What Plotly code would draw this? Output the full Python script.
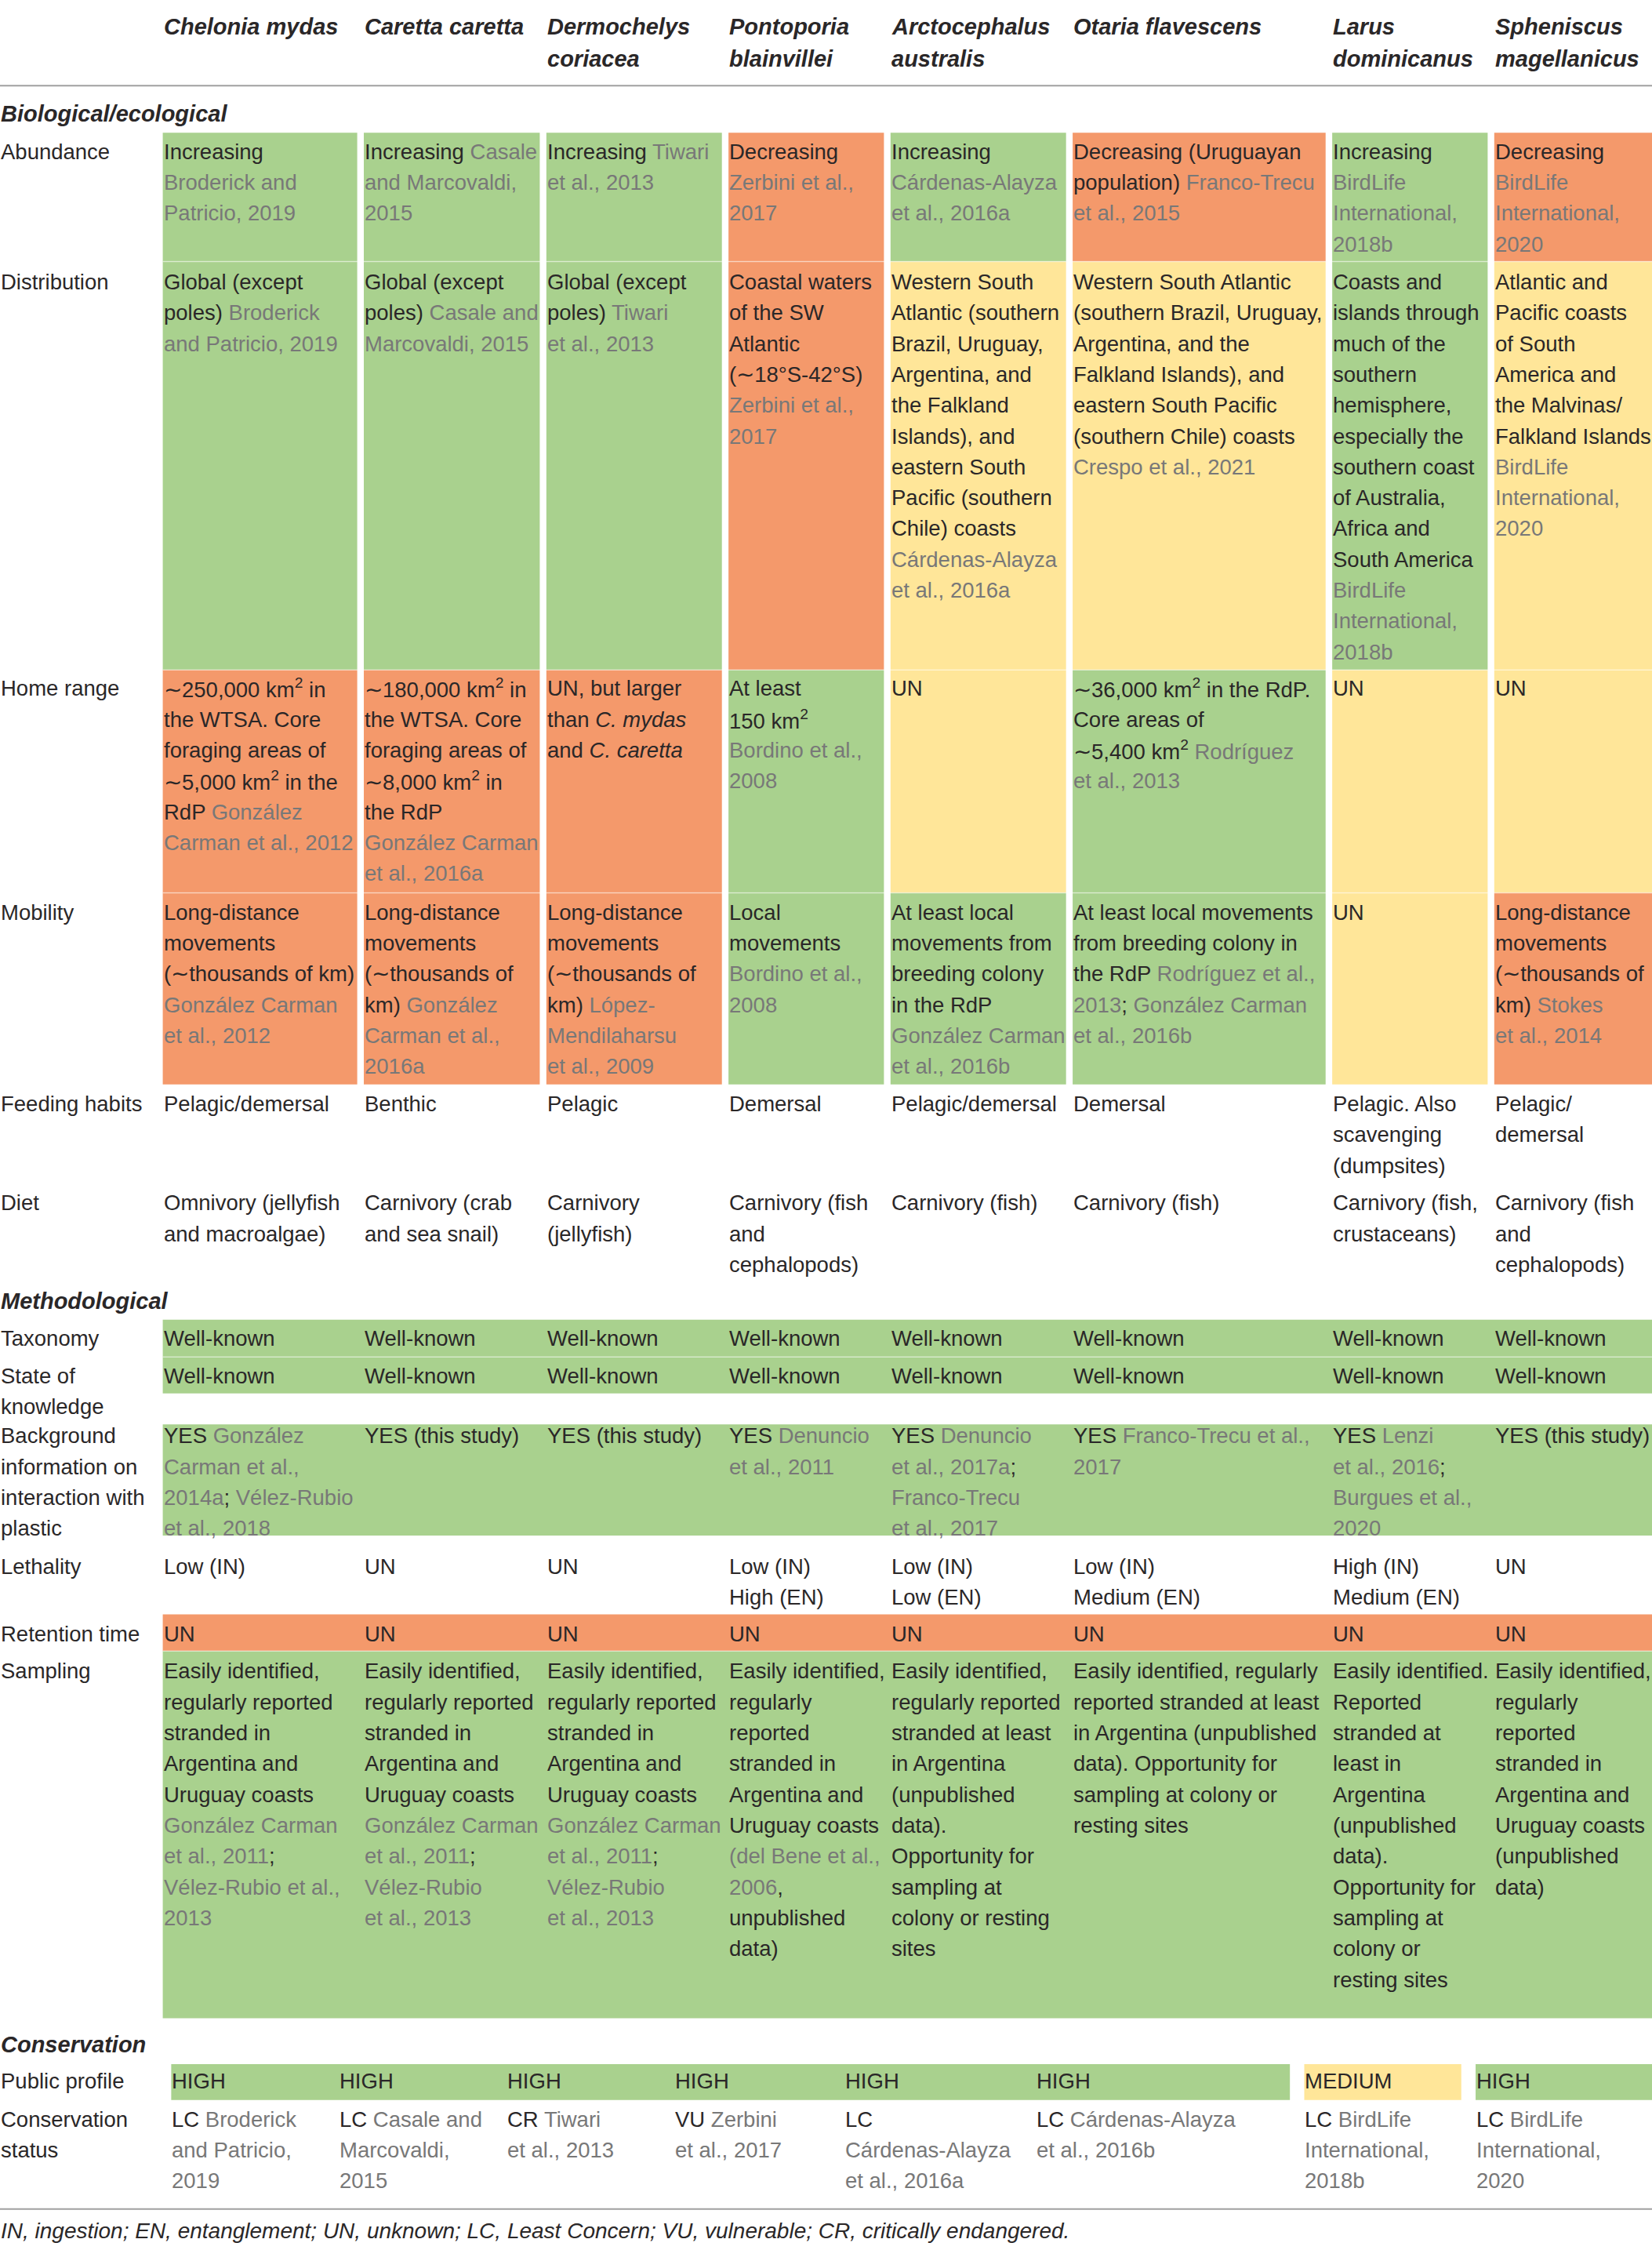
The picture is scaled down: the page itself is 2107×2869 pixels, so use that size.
import re
import plotly.graph_objects as go

# ---------------- data ----------------
SPECIES = ["Chelonia mydas", "Caretta caretta", "Dermochelys\ncoriacea", "Pontoporia\nblainvillei",
           "Arctocephalus\naustralis", "Otaria flavescens", "Larus\ndominicanus", "Spheniscus\nmagellanicus"]

SECTIONS = ["Biological/ecological", "Methodological", "Conservation"]

# text in [brackets] is a citation (drawn in grey)
ABUNDANCE = [
    "Increasing\n[Broderick and]\n[Patricio, 2019]",
    "Increasing [Casale]\n[and Marcovaldi,]\n[2015]",
    "Increasing [Tiwari]\n[et al., 2013]",
    "Decreasing\n[Zerbini et al.,]\n[2017]",
    "Increasing\n[Cárdenas-Alayza]\n[et al., 2016a]",
    "Decreasing (Uruguayan\npopulation) [Franco-Trecu]\n[et al., 2015]",
    "Increasing\n[BirdLife]\n[International,]\n[2018b]",
    "Decreasing\n[BirdLife]\n[International,]\n[2020]",
]
ABUNDANCE_STATUS = ["G", "G", "G", "O", "G", "O", "G", "O"]

DISTRIBUTION = [
    "Global (except\npoles) [Broderick]\n[and Patricio, 2019]",
    "Global (except\npoles) [Casale and]\n[Marcovaldi, 2015]",
    "Global (except\npoles) [Tiwari]\n[et al., 2013]",
    "Coastal waters\nof the SW\nAtlantic\n(∼18°S-42°S)\n[Zerbini et al.,]\n[2017]",
    "Western South\nAtlantic (southern\nBrazil, Uruguay,\nArgentina, and\nthe Falkland\nIslands), and\neastern South\nPacific (southern\nChile) coasts\n[Cárdenas-Alayza]\n[et al., 2016a]",
    "Western South Atlantic\n(southern Brazil, Uruguay,\nArgentina, and the\nFalkland Islands), and\neastern South Pacific\n(southern Chile) coasts\n[Crespo et al., 2021]",
    "Coasts and\nislands through\nmuch of the\nsouthern\nhemisphere,\nespecially the\nsouthern coast\nof Australia,\nAfrica and\nSouth America\n[BirdLife]\n[International,]\n[2018b]",
    "Atlantic and\nPacific coasts\nof South\nAmerica and\nthe Malvinas/\nFalkland Islands\n[BirdLife]\n[International,]\n[2020]",
]
DISTRIBUTION_STATUS = ["G", "G", "G", "O", "Y", "Y", "G", "Y"]

HOME_RANGE = [
    "∼250,000 km<sup>2</sup> in\nthe WTSA. Core\nforaging areas of\n∼5,000 km<sup>2</sup> in the\nRdP [González]\n[Carman et al., 2012]",
    "∼180,000 km<sup>2</sup> in\nthe WTSA. Core\nforaging areas of\n∼8,000 km<sup>2</sup> in\nthe RdP\n[González Carman]\n[et al., 2016a]",
    "UN, but larger\nthan <i>C. mydas</i>\nand <i>C. caretta</i>",
    "At least\n150 km<sup>2</sup>\n[Bordino et al.,]\n[2008]",
    "UN",
    "∼36,000 km<sup>2</sup> in the RdP.\nCore areas of\n∼5,400 km<sup>2</sup> [Rodríguez]\n[et al., 2013]",
    "UN",
    "UN",
]
HOME_RANGE_STATUS = ["O", "O", "O", "G", "Y", "G", "Y", "Y"]

MOBILITY = [
    "Long-distance\nmovements\n(∼thousands of km)\n[González Carman]\n[et al., 2012]",
    "Long-distance\nmovements\n(∼thousands of\nkm) [González]\n[Carman et al.,]\n[2016a]",
    "Long-distance\nmovements\n(∼thousands of\nkm) [López-]\n[Mendilaharsu]\n[et al., 2009]",
    "Local\nmovements\n[Bordino et al.,]\n[2008]",
    "At least local\nmovements from\nbreeding colony\nin the RdP\n[González Carman]\n[et al., 2016b]",
    "At least local movements\nfrom breeding colony in\nthe RdP [Rodríguez et al.,]\n[2013]; [González Carman]\n[et al., 2016b]",
    "UN",
    "Long-distance\nmovements\n(∼thousands of\nkm) [Stokes]\n[et al., 2014]",
]
MOBILITY_STATUS = ["O", "O", "O", "G", "G", "G", "Y", "O"]

FEEDING = ["Pelagic/demersal", "Benthic", "Pelagic", "Demersal", "Pelagic/demersal", "Demersal",
           "Pelagic. Also\nscavenging\n(dumpsites)", "Pelagic/\ndemersal"]

DIET = ["Omnivory (jellyfish\nand macroalgae)", "Carnivory (crab\nand sea snail)", "Carnivory\n(jellyfish)",
        "Carnivory (fish\nand\ncephalopods)", "Carnivory (fish)", "Carnivory (fish)",
        "Carnivory (fish,\ncrustaceans)", "Carnivory (fish\nand\ncephalopods)"]

TAXONOMY = ["Well-known"] * 8
TAXONOMY_STATUS = ["G"] * 8
STATE_KNOWLEDGE = ["Well-known"] * 8
STATE_KNOWLEDGE_STATUS = ["G"] * 8

BACKGROUND = [
    "YES [González]\n[Carman et al.,]\n[2014a]; [Vélez-Rubio]\n[et al., 2018]",
    "YES (this study)",
    "YES (this study)",
    "YES [Denuncio]\n[et al., 2011]",
    "YES [Denuncio]\n[et al., 2017a];\n[Franco-Trecu]\n[et al., 2017]",
    "YES [Franco-Trecu et al.,]\n[2017]",
    "YES [Lenzi]\n[et al., 2016];\n[Burgues et al.,]\n[2020]",
    "YES (this study)",
]
BACKGROUND_STATUS = ["G"] * 8

LETHALITY = ["Low (IN)", "UN", "UN", "Low (IN)\nHigh (EN)", "Low (IN)\nLow (EN)", "Low (IN)\nMedium (EN)",
             "High (IN)\nMedium (EN)", "UN"]

RETENTION = ["UN"] * 8
RETENTION_STATUS = ["O"] * 8

SAMPLING = [
    "Easily identified,\nregularly reported\nstranded in\nArgentina and\nUruguay coasts\n[González Carman]\n[et al., 2011];\n[Vélez-Rubio et al.,]\n[2013]",
    "Easily identified,\nregularly reported\nstranded in\nArgentina and\nUruguay coasts\n[González Carman]\n[et al., 2011];\n[Vélez-Rubio]\n[et al., 2013]",
    "Easily identified,\nregularly reported\nstranded in\nArgentina and\nUruguay coasts\n[González Carman]\n[et al., 2011];\n[Vélez-Rubio]\n[et al., 2013]",
    "Easily identified,\nregularly\nreported\nstranded in\nArgentina and\nUruguay coasts\n[(del Bene et al.,]\n[2006],\nunpublished\ndata)",
    "Easily identified,\nregularly reported\nstranded at least\nin Argentina\n(unpublished\ndata).\nOpportunity for\nsampling at\ncolony or resting\nsites",
    "Easily identified, regularly\nreported stranded at least\nin Argentina (unpublished\ndata). Opportunity for\nsampling at colony or\nresting sites",
    "Easily identified.\nReported\nstranded at\nleast in\nArgentina\n(unpublished\ndata).\nOpportunity for\nsampling at\ncolony or\nresting sites",
    "Easily identified,\nregularly\nreported\nstranded in\nArgentina and\nUruguay coasts\n(unpublished\ndata)",
]
SAMPLING_STATUS = ["G"] * 8

PUBLIC_PROFILE = ["HIGH", "HIGH", "HIGH", "HIGH", "HIGH", "HIGH", "MEDIUM", "HIGH"]

CONSERVATION_STATUS = [
    "LC [Broderick]\n[and Patricio,]\n[2019]",
    "LC [Casale and]\n[Marcovaldi,]\n[2015]",
    "CR [Tiwari]\n[et al., 2013]",
    "VU [Zerbini]\n[et al., 2017]",
    "LC\n[Cárdenas-Alayza]\n[et al., 2016a]",
    "LC [Cárdenas-Alayza]\n[et al., 2016b]",
    "LC [BirdLife]\n[International,]\n[2018b]",
    "LC [BirdLife]\n[International,]\n[2020]",
]

FOOTNOTE = ("IN, ingestion; EN, entanglement; UN, unknown; LC, Least Concern; "
            "VU, vulnerable; CR, critically endangered.")

# ---------------- styles / layout ----------------
FILL = {"G": "#A9D18E", "O": "#F4996B", "Y": "#FFE699"}
PROFILE_CODE = {"HIGH": "G", "MEDIUM": "Y"}
TXT = "#2A2728"
CITE = "#787878"
FONT = "Liberation Sans, Arial, Helvetica, sans-serif"
FS = 27.5        # body font (px)
FS_HEAD = 29

W_PX, H_PX = 2107, 2869
XU = 1152.0                     # horizontal layout units
YU = H_PX * XU / W_PX           # vertical layout units (same scale)
RIGHT = XU
GAP = 4.6
LH = 21.5

COL_X = [113.5, 253.7, 381, 508, 621, 748, 929, 1042]
CONS_X = [119.4, 236, 353, 470, 589, 722, 909.5, 1029]

ROWS = [
    dict(label="Abundance", texts=ABUNDANCE, status=ABUNDANCE_STATUS, top=92.5, bottom=182.3, ty=105.7, mode="cells"),
    dict(label="Distribution", texts=DISTRIBUTION, status=DISTRIBUTION_STATUS, top=182.3, bottom=467, ty=196.5, mode="cells"),
    dict(label="Home range", texts=HOME_RANGE, status=HOME_RANGE_STATUS, top=467, bottom=622.5, ty=480, mode="cells"),
    dict(label="Mobility", texts=MOBILITY, status=MOBILITY_STATUS, top=622.5, bottom=756, ty=636, mode="cells"),
    dict(label="Feeding habits", texts=FEEDING, ty=769.6),
    dict(label="Diet", texts=DIET, ty=838.7),
    dict(label="Taxonomy", texts=TAXONOMY, status=TAXONOMY_STATUS, top=920, bottom=946, ty=933.2, mode="span"),
    dict(label="State of\nknowledge", texts=STATE_KNOWLEDGE, status=STATE_KNOWLEDGE_STATUS, top=946, bottom=971.5, ty=959, mode="span"),
    dict(label="Background\ninformation on\ninteraction with\nplastic", texts=BACKGROUND, status=BACKGROUND_STATUS,
         top=993, bottom=1070.6, ty=1001, mode="span"),
    dict(label="Lethality", texts=LETHALITY, ty=1092),
    dict(label="Retention time", texts=RETENTION, status=RETENTION_STATUS, top=1125.5, bottom=1151, ty=1139, mode="span"),
    dict(label="Sampling", texts=SAMPLING, status=SAMPLING_STATUS, top=1151, bottom=1407, ty=1165, mode="span"),
    dict(label="Public profile", texts=PUBLIC_PROFILE, status=[PROFILE_CODE[v] for v in PUBLIC_PROFILE],
         top=1439, bottom=1464, ty=1451, mode="merge", xs=CONS_X),
    dict(label="Conservation\nstatus", texts=CONSERVATION_STATUS, ty=1477.5, xs=CONS_X),
]
SECTION_Y = [79.3, 907, 1425.4]
HEAD_Y, HEAD_LH = 18.8, 22.3
RULES_Y = [59.8, 1540]
FOOT_Y = 1555

fig = go.Figure()
shapes, annos = [], []


def rect(x0, x1, y0, y1, color):
    shapes.append(dict(type="rect", xref="x", yref="y", x0=x0, x1=x1, y0=y0, y1=y1,
                       fillcolor=color, line=dict(width=0), layer="below"))


def cite(line):
    return re.sub(r"\[([^\]]*)\]", lambda m: f"<span style='color:{CITE}'>{m.group(1)}</span>", line)


def text(x, y, s, size=FS, color=TXT, style="normal", weight="normal"):
    annos.append(dict(x=x, y=y, xref="x", yref="y", text=s, showarrow=False, xanchor="left",
                      yanchor="middle", align="left", borderpad=0,
                      font=dict(family=FONT, size=size, color=color, style=style, weight=weight)))


# fills
for row in ROWS:
    st = row.get("status")
    if not st:
        continue
    xs = row.get("xs", COL_X)
    n = len(xs)
    if row["mode"] == "cells":
        for i, s in enumerate(st):
            if s:
                x1 = xs[i + 1] - GAP if i + 1 < n else RIGHT
                rect(xs[i], x1, row["top"], row["bottom"], FILL[s])
    else:
        gap = 0 if row["mode"] == "span" else 10
        i = 0
        while i < n:
            j = i
            while j + 1 < n and st[j + 1] == st[i]:
                j += 1
            x1 = xs[j + 1] - gap if j + 1 < n else RIGHT
            if st[i]:
                rect(xs[i], x1, row["top"], row["bottom"], FILL[st[i]])
            i = j + 1

# faint separators between stacked coloured rows
for yb in [182.3, 467, 622.5, 946, 1151]:
    shapes.append(dict(type="line", xref="x", yref="y", x0=COL_X[0], x1=RIGHT, y0=yb, y1=yb,
                       line=dict(color="rgba(255,255,255,0.45)", width=1.5), layer="below"))

# rules
for yr in RULES_Y:
    shapes.append(dict(type="line", xref="x", yref="y", x0=0, x1=RIGHT, y0=yr, y1=yr,
                       line=dict(color="#A0A0A0", width=2)))

# header
for i, sp in enumerate(SPECIES):
    for k, ln in enumerate(sp.split("\n")):
        text(COL_X[i], HEAD_Y + k * HEAD_LH, ln, size=FS_HEAD, style="italic", weight="bold")

# section titles
for s, y in zip(SECTIONS, SECTION_Y):
    text(0, y, s, size=FS_HEAD, style="italic", weight="bold")

# rows
for row in ROWS:
    xs = row.get("xs", COL_X)
    for k, ln in enumerate(row["label"].split("\n")):
        text(0, row["ty"] + k * LH, ln)
    for i, cell in enumerate(row["texts"]):
        for k, ln in enumerate(cell.split("\n")):
            text(xs[i], row["ty"] + k * LH, cite(ln))

# footnote
text(0, FOOT_Y, FOOTNOTE, size=28, style="italic")

fig.update_layout(
    width=W_PX, height=H_PX, margin=dict(l=0, r=0, t=0, b=0),
    paper_bgcolor="white", plot_bgcolor="white",
    xaxis=dict(range=[0, XU], visible=False, fixedrange=True),
    yaxis=dict(range=[YU, 0], visible=False, fixedrange=True),
    shapes=shapes, annotations=annos, showlegend=False,
)
fig.write_html("out.html", config={"displayModeBar": False},
               post_script="document.body.style.margin='0';document.body.style.overflow='hidden';")
